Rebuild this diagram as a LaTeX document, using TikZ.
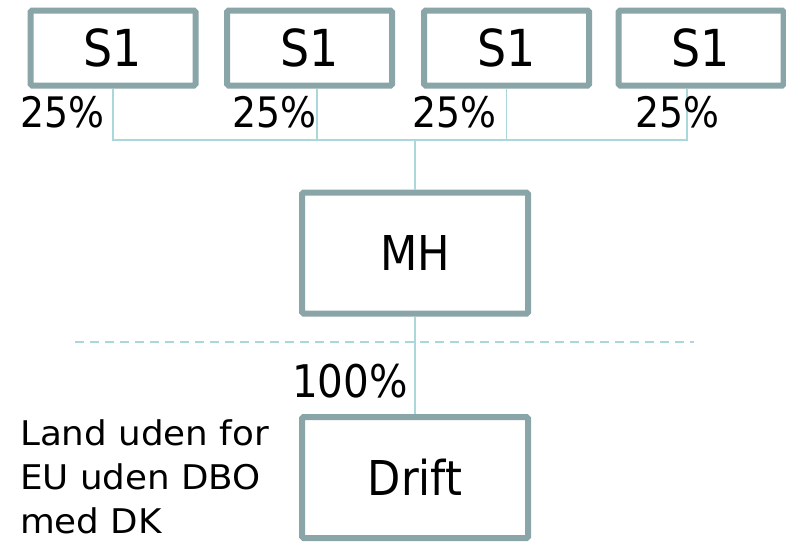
\documentclass[tikz,border=0pt]{standalone}
\usepackage{fontspec}
\setmainfont{DejaVu Sans}
\newfontfamily\tallfont[FakeStretch=0.9]{DejaVu Sans}
\newfontfamily\widefont[FakeStretch=1.05]{DejaVu Sans}
\begin{document}
\begin{tikzpicture}
		[x=1pt,y=-1pt,
		 box/.style={draw=boxgray,line width=6pt,rounded corners=1.5pt,inner sep=0pt,fill=white},
		 owner/.style={box,minimum width=165pt,minimum height=75pt,font=\tallfont\fontsize{51}{54}\selectfont},
		 unit/.style={box,minimum width=226pt,minimum height=121pt,font=\tallfont\fontsize{48}{52}\selectfont},
		 share/.style={inner sep=0pt,anchor=base west,font=\tallfont\fontsize{42}{46}\selectfont},
		 link/.style={draw=linkblue,line width=1.5pt}]
	\definecolor{boxgray}{HTML}{8AA5A8}
	\definecolor{linkblue}{HTML}{A9D7DC}
	\useasboundingbox (0,0) rectangle (786,541);

	%draw the four owners and the holding company
	\node[owner] (s1) at (113,48) {S1};
	\node[owner] (s2) at (309.5,48) {S1};
	\node[owner] (s3) at (506.5,48) {S1};
	\node[owner] (s4) at (701,48) {S1};
	\node[unit] (mh) at (415,253) {MH};
	\node[unit] (drift) at (415,477.5) {Drift};

	%draw the ownership lines
	\coordinate (hub) at (415,140);
	\draw[link] (s1.south) |- (hub);
	\draw[link] ([xshift=7.5pt]s2.south) |- (hub);
	\draw[link] (s3.south) |- (hub);
	\draw[link] ([xshift=-14pt]s4.south) |- (hub);
	\draw[link] (hub) -- (mh.north);
	\draw[link] (mh.south) -- (drift.north);

	%dashed border line
	\coordinate (bl) at (75,342);
	\coordinate (br) at (694,342);
	\draw[link,dash pattern=on 9pt off 6pt] (bl) -- (br);

	%ownership shares
	\node[share] (p1) at (20,127) {25\%};
	\node[share] (p2) at (232,127) {25\%};
	\node[share] (p3) at (412,127) {25\%};
	\node[share] (p4) at (635,127) {25\%};
	\node[share,font=\tallfont\fontsize{45}{48}\selectfont] (p5) at (292,397) {100\%};

	\node[inner sep=0pt,anchor=base west,align=left,font=\widefont\fontsize{34}{44}\selectfont]
		(land) at (20,533) {Land uden for\\EU uden DBO\\med DK};
\end{tikzpicture}
\end{document}
